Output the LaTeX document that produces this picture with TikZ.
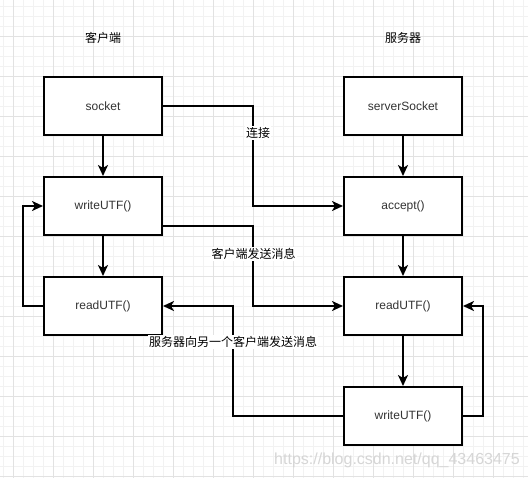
\documentclass[tikz,border=0pt]{standalone}
\usepackage{fontspec}
\setmainfont{Liberation Sans}
\newfontfamily\cjk{Noto Sans CJK SC}
\usetikzlibrary{arrows.meta}
\definecolor{boxtext}{HTML}{333333}
\definecolor{gridmajor}{HTML}{E2E2E2}
\definecolor{gridminor}{HTML}{F2F2F2}
\definecolor{wmark}{HTML}{D6D6D6}
\tikzset{
  procbox/.style={draw=black, line width=2pt, fill=white, minimum width=118pt, minimum height=58pt,
    inner sep=0pt, font=\fontsize{12}{14}\selectfont, text=boxtext},
  flow/.style={draw=black, line width=2pt, -{Stealth[length=11pt,width=10pt,inset=3pt]}},
  title/.style={font=\cjk\fontsize{12}{14}\selectfont, text=black, inner sep=0pt},
  edgelabel/.style={font=\cjk\fontsize{12}{14}\selectfont, text=black, fill=white, inner sep=1pt},
}
\begin{document}
\begin{tikzpicture}[x=1pt,y=-1pt]
\useasboundingbox (0,0) rectangle (528,478);
\fill[white] (0,0) rectangle (528,478);
% grid
\foreach \x in {3,13,...,528} \draw[gridminor, line width=0.6pt] (\x,0) -- (\x,478);
\foreach \y in {6,16,...,478} \draw[gridminor, line width=0.6pt] (0,\y) -- (528,\y);
\foreach \x in {13,53,...,528} \draw[gridmajor, line width=0.8pt] (\x,0) -- (\x,478);
\foreach \y in {36,76,...,478} \draw[gridmajor, line width=0.8pt] (0,\y) -- (528,\y);

% titles
\node[title] (tclient) at (103,37.5) {客户端};
\node[title] (tserver) at (403,37.5) {服务器};

% boxes
\node[procbox] (socket) at (103,106) {socket};
\node[procbox] (cwrite) at (103,206) {writeUTF()};
\node[procbox] (cread)  at (103,306) {readUTF()};
\node[procbox] (ssock)  at (403,106) {serverSocket};
\node[procbox] (accept) at (403,206) {accept()};
\node[procbox] (sread)  at (403,306) {readUTF()};
\node[procbox] (swrite) at (403,416) {writeUTF()};

% connectors
\draw[flow] (socket) -- (cwrite);
\draw[flow] (cwrite) -- (cread);
\draw[flow] (ssock) -- (accept);
\draw[flow] (accept) -- (sread);
\draw[flow] (sread) -- (swrite);

\draw[flow] (socket.east) -- ++(90,0) |- (accept.west);
\draw[flow] ([yshift=-20pt]cwrite.east) -- ++(90,0) |- (sread.west);
\draw[flow] (swrite.east) -- ++(20,0) |- (sread.east);
\draw[flow] (swrite.west) -- ++(-110,0) |- (cread.east);
\draw[flow] (cread.west) -- ++(-20,0) |- (cwrite.west);

% labels
\node[edgelabel] (lconn) at (258,133) {连接};
\node[edgelabel] (lsend) at (253.5,254) {客户端发送消息};
\node[edgelabel] (lbroad) at (233,342) {服务器向另一个客户端发送消息};

% watermark
\node[font=\fontsize{16}{18}\selectfont, text=wmark, inner sep=0pt] (wm) at (397,460) {https://blog.csdn.net/qq\_43463475};
\end{tikzpicture}
\end{document}
